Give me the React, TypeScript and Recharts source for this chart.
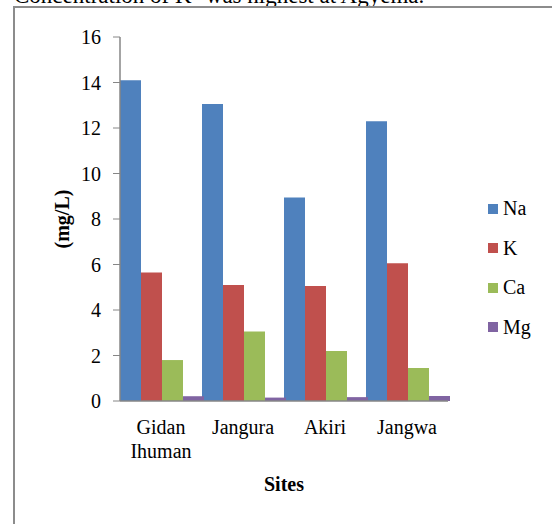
import { BarChart, Bar, XAxis, YAxis, Label } from "recharts";

const sites = ["Gidan Ihuman", "Jangura", "Akiri", "Jangwa"];
const na = [14.1, 13.05, 8.95, 12.3];
const k = [5.65, 5.1, 5.05, 6.05];
const ca = [1.8, 3.05, 2.2, 1.45];
const mg = [0.21, 0.15, 0.17, 0.22];
const yTicks = [0, 2, 4, 6, 8, 10, 12, 14, 16];

const series = [
  { key: "Na", color: "#4F81BD" },
  { key: "K", color: "#C0504D" },
  { key: "Ca", color: "#9BBB59" },
  { key: "Mg", color: "#8064A2" },
];

const data = sites.map((site, i) => ({
  site,
  Na: na[i],
  K: k[i],
  Ca: ca[i],
  Mg: mg[i],
}));

const FONT = "'Liberation Serif', 'Times New Roman', serif";
const AXIS_GREY = "#868686";

// category labels wrap onto two lines like the spreadsheet
function SiteTick({ x, y, payload }: any) {
  const words = String(payload.value).split(" ");
  return (
    <text x={x} y={y} textAnchor="middle" fontFamily={FONT} fontSize={20} fill="#000">
      {words.map((w, i) => (
        <tspan key={w} x={x} dy={i === 0 ? 25 : 24}>
          {w}
        </tspan>
      ))}
    </text>
  );
}

function SideLegend() {
  return (
    <div style={{ position: "absolute", left: 488, top: 189, fontFamily: FONT, fontSize: 20, color: "#000" }}>
      {series.map((s) => (
        <div key={s.key} style={{ display: "flex", alignItems: "center", height: 39.5 }}>
          <span style={{ width: 10, height: 10, background: s.color, marginRight: 5 }} />
          <span>{s.key}</span>
        </div>
      ))}
    </div>
  );
}

export default function App() {
  return (
    <div style={{ position: "absolute", left: 0, top: 0, width: 552, height: 524, background: "#fff", overflow: "hidden" }}>
      <div
        style={{
          position: "absolute",
          left: 14,
          top: -16,
          fontFamily: FONT,
          fontSize: 23,
          lineHeight: "23px",
          whiteSpace: "nowrap",
          color: "#000",
        }}
      >
        Concentration of K<sup style={{ fontSize: 15, lineHeight: 0 }}>+</sup> was highest at Agyema.
      </div>
      <div
        style={{
          position: "absolute",
          left: 13,
          top: 6,
          width: 560,
          height: 540,
          borderLeft: "2px solid #8c8c8c",
          borderTop: "2px solid #8c8c8c",
        }}
      />
      <div style={{ position: "absolute", left: 0, top: 0 }}>
        <BarChart
          width={552}
          height={524}
          data={data}
          margin={{ top: 37, right: 104, left: 0, bottom: 0 }}
          barCategoryGap={0}
          barGap={0}
        >
          <XAxis
            dataKey="site"
            height={123}
            tickLine={false}
            axisLine={{ stroke: AXIS_GREY, strokeWidth: 1.5 }}
            tick={<SiteTick />}
            interval={0}
          >
            <Label
              value="Sites"
              position="insideTop"
              offset={76}
              style={{ fontFamily: FONT, fontSize: 20, fontWeight: "bold", fill: "#000" }}
            />
          </XAxis>
          <YAxis
            width={120}
            domain={[0, 16]}
            ticks={yTicks}
            interval={0}
            tickSize={7}
            tickMargin={12}
            tickLine={{ stroke: AXIS_GREY }}
            axisLine={{ stroke: AXIS_GREY, strokeWidth: 1.5 }}
            tick={{ fontFamily: FONT, fontSize: 20, fill: "#000" }}
          >
            <Label
              content={({ viewBox }: any) => {
                const cx = viewBox.x + 62;
                const cy = viewBox.y + viewBox.height / 2;
                return (
                  <text
                    x={cx}
                    y={cy}
                    transform={`rotate(-90 ${cx} ${cy})`}
                    textAnchor="middle"
                    dominantBaseline="central"
                    fontFamily={FONT}
                    fontSize={20}
                    fontWeight="bold"
                    fill="#000"
                  >
                    (mg/L)
                  </text>
                );
              }}
            />
          </YAxis>
          {series.map((s) => (
            <Bar key={s.key} dataKey={s.key} fill={s.color} isAnimationActive={false} />
          ))}
        </BarChart>
      </div>
      <SideLegend />
    </div>
  );
}
